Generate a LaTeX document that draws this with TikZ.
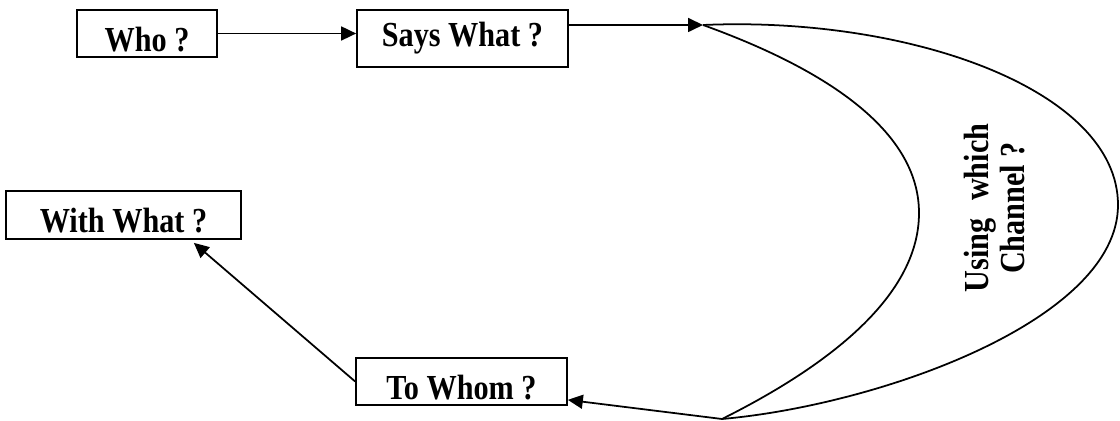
\documentclass[tikz,border=0pt]{standalone}
\usepackage{fontspec}
\setmainfont{Liberation Serif}
\newfontfamily\boxfont[FakeStretch=0.86]{Liberation Serif}
\usetikzlibrary{arrows.meta}
\begin{document}
\begin{tikzpicture}[x=0.02cm,y=-0.02cm,line width=1pt,>={Triangle[length=0.3cm,width=0.28cm]},
	box/.style={draw,inner sep=0pt,font=\boxfont\fontsize{20}{24}\selectfont\bfseries},
	low/.style={text height=0.72cm}]
			\useasboundingbox (0,0) rectangle (1120,421);
			%%Kaesten
			\node[box,low,minimum width=2.8cm,minimum height=0.94cm] (who) at (147,33.5) {Who ?};
			\node[box,minimum width=4.22cm,minimum height=1.14cm] (says) at (462.5,38.5) {Says What ?};
			\node[box,low,minimum width=4.7cm,minimum height=0.96cm] (withwhat) at (123.5,215) {With What ?};
			\node[box,low,minimum width=4.22cm,minimum height=0.94cm] (towhom) at (461.5,381.5) {To Whom ?};

			%%Sichel
			\coordinate (top) at (703,25);
			\coordinate (bot) at (722,419);
			\draw (top) .. controls (910,16) and (1118,90) .. (1118,205)
				.. controls (1118,320) and (880,405) .. (bot);
			\draw (top) .. controls (800,60) and (919,120) .. (919,213)
				.. controls (919,300) and (820,370) .. (bot);
			\node[rotate=90,align=center,font=\boxfont\fontsize{20}{20.5}\selectfont\bfseries] (channel) at (995,208)
				{Using\enspace which\\Channel ?};

			%%Pfeile
			\draw[->] (who.east) -- (who.east -| says.west);
			\draw[->] (says.east |- top) -- (top);
			\draw[->] (bot) -- ([yshift=0.12cm]towhom.south east);
			\draw[->] (towhom.west) -- ([shift={(-0.96cm,-0.06cm)}]withwhat.south east);
		\end{tikzpicture}
\end{document}
